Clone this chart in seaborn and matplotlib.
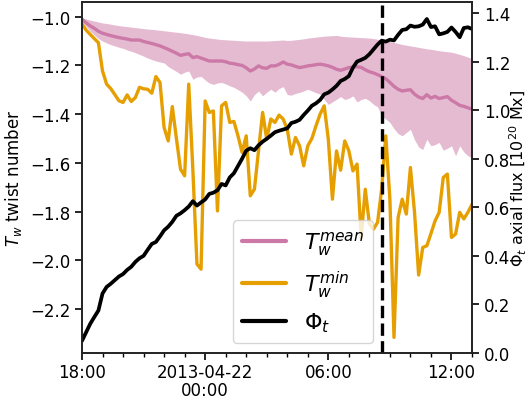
import numpy as np
import pandas as pd
import matplotlib
matplotlib.use("Agg")
import matplotlib.pyplot as plt
import matplotlib.dates as mdates
from matplotlib.ticker import FuncFormatter
import seaborn as sns

# ---------------- data (12-min cadence starting 2013-04-21 18:00) ----------------
start_time = "2013-04-21 18:00"
cadence = "12min"
event_time = "2013-04-22 08:38"

tw_mean = [-1.010, -1.025, -1.038, -1.048, -1.060, -1.068, -1.073, -1.078, -1.082, -1.086,
           -1.089, -1.092, -1.096, -1.096, -1.096, -1.102, -1.106, -1.110, -1.115, -1.120,
           -1.127, -1.134, -1.142, -1.150, -1.159, -1.155, -1.152, -1.168, -1.164, -1.170,
           -1.176, -1.182, -1.182, -1.182, -1.182, -1.185, -1.191, -1.193, -1.197, -1.200,
           -1.210, -1.223, -1.215, -1.202, -1.210, -1.212, -1.202, -1.202, -1.196, -1.186,
           -1.195, -1.198, -1.204, -1.209, -1.206, -1.202, -1.200, -1.197, -1.195, -1.198,
           -1.202, -1.208, -1.216, -1.220, -1.215, -1.209, -1.207, -1.206, -1.208, -1.218,
           -1.226, -1.231, -1.238, -1.246, -1.255, -1.270, -1.286, -1.298, -1.305, -1.302,
           -1.300, -1.318, -1.330, -1.336, -1.320, -1.334, -1.327, -1.336, -1.332, -1.328,
           -1.343, -1.353, -1.364, -1.368, -1.374, -1.380]

tw_upper = [-1.006, -1.010, -1.014, -1.018, -1.022, -1.026, -1.028, -1.031, -1.034, -1.037,
            -1.039, -1.041, -1.043, -1.045, -1.047, -1.049, -1.051, -1.052, -1.054, -1.056,
            -1.058, -1.060, -1.062, -1.064, -1.066, -1.068, -1.071, -1.074, -1.077, -1.081,
            -1.085, -1.088, -1.090, -1.092, -1.094, -1.095, -1.096, -1.097, -1.098, -1.099,
            -1.100, -1.100, -1.100, -1.100, -1.100, -1.100, -1.099, -1.098, -1.097, -1.096,
            -1.098, -1.097, -1.095, -1.093, -1.091, -1.088, -1.086, -1.084, -1.082, -1.080,
            -1.079, -1.078, -1.077, -1.080, -1.082, -1.083, -1.084, -1.085, -1.086, -1.087,
            -1.088, -1.090, -1.093, -1.096, -1.099, -1.102, -1.106, -1.110, -1.114, -1.117,
            -1.120, -1.123, -1.126, -1.129, -1.132, -1.134, -1.137, -1.140, -1.142, -1.144,
            -1.146, -1.150, -1.155, -1.160, -1.166, -1.172]

tw_lower = [-1.020, -1.040, -1.060, -1.075, -1.090, -1.100, -1.108, -1.115, -1.120, -1.126,
            -1.130, -1.137, -1.142, -1.148, -1.155, -1.162, -1.170, -1.176, -1.182, -1.186,
            -1.190, -1.205, -1.215, -1.225, -1.236, -1.228, -1.223, -1.257, -1.248, -1.245,
            -1.260, -1.272, -1.278, -1.272, -1.270, -1.276, -1.284, -1.290, -1.300, -1.310,
            -1.325, -1.346, -1.320, -1.305, -1.325, -1.310, -1.298, -1.310, -1.295, -1.287,
            -1.320, -1.322, -1.315, -1.311, -1.305, -1.298, -1.305, -1.312, -1.318, -1.340,
            -1.360, -1.350, -1.339, -1.328, -1.340, -1.335, -1.325, -1.350, -1.340, -1.335,
            -1.345, -1.360, -1.370, -1.407, -1.420, -1.434, -1.460, -1.480, -1.489, -1.475,
            -1.462, -1.505, -1.535, -1.545, -1.503, -1.530, -1.525, -1.516, -1.548, -1.540,
            -1.530, -1.571, -1.530, -1.555, -1.571, -1.578]

tw_min = [-1.030, -1.055, -1.073, -1.090, -1.107, -1.223, -1.277, -1.295, -1.320, -1.345,
          -1.352, -1.321, -1.348, -1.332, -1.290, -1.296, -1.298, -1.314, -1.246, -1.270,
          -1.455, -1.510, -1.369, -1.500, -1.626, -1.653, -1.277, -1.626, -2.015, -2.036,
          -1.346, -1.393, -1.387, -1.797, -1.366, -1.352, -1.434, -1.430, -1.489, -1.557,
          -1.489, -1.735, -1.708, -1.550, -1.393, -1.503, -1.420, -1.434, -1.404, -1.420,
          -1.462, -1.564, -1.496, -1.530, -1.612, -1.530, -1.500, -1.448, -1.400, -1.366,
          -1.503, -1.749, -1.551, -1.630, -1.510, -1.550, -1.633, -1.605, -1.906, -1.708,
          -1.851, -1.872, -1.844, -1.708, -1.489, -1.749, -2.316, -1.824, -1.749, -1.810,
          -1.619, -1.803, -2.060, -1.947, -1.940, -1.890, -1.838, -1.803, -1.660, -1.646,
          -1.906, -1.892, -1.803, -1.830, -1.803, -1.770]

phi_t = [0.050, 0.085, 0.120, 0.148, 0.175, 0.245, 0.272, 0.285, 0.300, 0.315,
         0.325, 0.342, 0.355, 0.375, 0.390, 0.400, 0.425, 0.449, 0.457, 0.480,
         0.505, 0.520, 0.540, 0.565, 0.575, 0.588, 0.603, 0.625, 0.607, 0.620,
         0.632, 0.655, 0.660, 0.670, 0.696, 0.690, 0.723, 0.740, 0.770, 0.800,
         0.833, 0.843, 0.835, 0.855, 0.870, 0.882, 0.895, 0.909, 0.915, 0.920,
         0.925, 0.947, 0.952, 0.960, 0.980, 0.998, 1.018, 1.028, 1.042, 1.065,
         1.072, 1.085, 1.100, 1.120, 1.128, 1.140, 1.175, 1.200, 1.207, 1.215,
         1.230, 1.250, 1.270, 1.286, 1.282, 1.290, 1.287, 1.310, 1.330, 1.333,
         1.348, 1.343, 1.345, 1.352, 1.375, 1.342, 1.345, 1.312, 1.316, 1.322,
         1.340, 1.322, 1.300, 1.338, 1.341, 1.334]

left_ticks = [-2.2, -2.0, -1.8, -1.6, -1.4, -1.2, -1.0]
right_ticks = [0.0, 0.2, 0.4, 0.6, 0.8, 1.0, 1.2, 1.4]

label_mean = r"$T_w^{mean}$"
label_min = r"$T_w^{min}$"
label_phi = r"$\Phi_t$"
ylabel_left = r"$T_w$ twist number"
ylabel_right = r"$\Phi_t$ axial flux [$10^{20}$ Mx]"

# ---------------- style ----------------
sns.set_theme(style="ticks")
plt.rcParams["font.family"] = ["DejaVu Sans"]
plt.rcParams["mathtext.fontset"] = "dejavusans"
for key in ("text.color", "axes.labelcolor", "xtick.color", "ytick.color", "axes.edgecolor"):
    plt.rcParams[key] = "black"

c_mean = "#CC79A7"
c_min = "#E69F00"
c_phi = "black"
lw = 2.4

times = pd.date_range(start=start_time, periods=len(phi_t), freq=cadence)

fig = plt.figure(figsize=(5.31, 4.02), dpi=100)
ax = fig.add_axes([0.1544, 0.1194, 0.7345, 0.8731])
ax2 = ax.twinx()

ax.fill_between(times, tw_lower, tw_upper, color=c_mean, alpha=0.5, linewidth=0)
sns.lineplot(x=times, y=tw_mean, ax=ax, color=c_mean, lw=lw, label=label_mean)
sns.lineplot(x=times, y=tw_min, ax=ax, color=c_min, lw=lw, label=label_min)
sns.lineplot(x=times, y=phi_t, ax=ax2, color=c_phi, lw=lw + 0.3, label=label_phi)
ax2.axvline(pd.Timestamp(event_time), color="black", lw=2.4, ls=(0, (3.7, 1.6)))

if ax.get_legend() is not None:
    ax.get_legend().remove()
if ax2.get_legend() is not None:
    ax2.get_legend().remove()

ax.set_xlim(times[0], times[-1])
ax.set_ylim(-2.38, -0.94)
ax2.set_ylim(0, 1.445)
ax.set_yticks(left_ticks)
ax.set_yticklabels([f"{t:.1f}".replace("-", "\u2212") for t in left_ticks])
ax2.set_yticks(right_ticks)
ax2.set_yticklabels([f"{t:.1f}" for t in right_ticks])

ax.xaxis.set_major_locator(mdates.HourLocator(byhour=[0, 6, 12, 18]))
ax.xaxis.set_minor_locator(mdates.HourLocator())


def fmt(x, pos):
    d = mdates.num2date(x)
    if d.hour == 0:
        return d.strftime("%Y-%m-%d\n%H:%M")
    return d.strftime("%H:%M")


ax.xaxis.set_major_formatter(FuncFormatter(fmt))

for a in (ax, ax2):
    a.tick_params(axis="both", which="major", labelsize=12, length=5, width=1.2,
                  color="black", labelcolor="black")
    a.tick_params(axis="both", which="minor", length=3, width=1.0, color="black")
    for s in a.spines.values():
        s.set_linewidth(1.2)
        s.set_color("#222222")
ax.tick_params(axis="x", which="major", pad=2)
for t in ax.get_xticklabels():
    t.set_linespacing(1.05)

ax.set_ylabel(ylabel_left, fontsize=12, color="black")
ax2.set_ylabel(ylabel_right, fontsize=11.5, color="black", labelpad=-1.5)
ax.set_xlabel("")

h1, l1 = ax.get_legend_handles_labels()
h2, l2 = ax2.get_legend_handles_labels()
leg = ax2.legend(h1 + h2, l1 + l2, loc="lower left", bbox_to_anchor=(0.387, 0.028),
                 borderaxespad=0, fontsize=16, frameon=True, handlelength=2.0)
for line in leg.get_lines():
    line.set_linewidth(3)

fig.savefig("out.png", dpi=100)
